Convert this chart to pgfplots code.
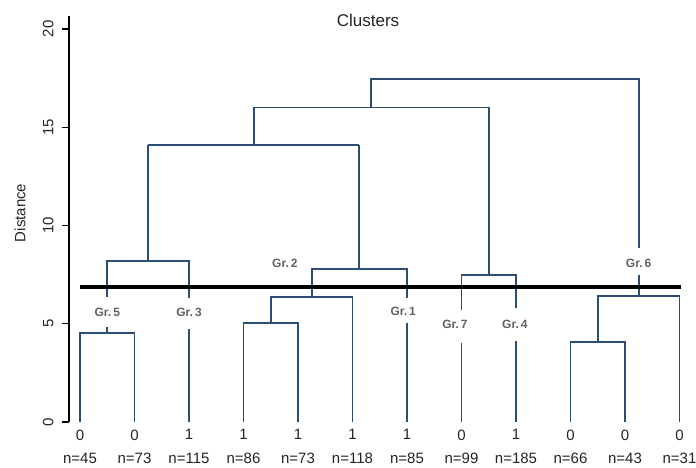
\documentclass[border=0pt]{standalone}
\usepackage{fontspec}
\setmainfont{Liberation Sans}
\usepackage{pgfplots}
\pgfplotsset{compat=1.18}
\definecolor{dendro}{RGB}{44,78,116}
\definecolor{txt}{RGB}{35,35,40}
\definecolor{grtxt}{RGB}{95,95,105}
\begin{document}
\begin{tikzpicture}
\useasboundingbox (-69pt,-45pt) rectangle (627pt,422pt);
\begin{axis}[
  at={(0,0)}, anchor=south west,
  scale only axis, width=627pt, height=406pt,
  xmin=0.798, xmax=12.303, ymin=0, ymax=20.66,
  axis y line=left, axis x line=bottom,
  x axis line style={draw=none},
  y axis line style={-, line width=1.4pt, black},
  ytick={0,5,10,15,20},
  tick align=outside,
  major tick length=7pt,
  ytick style={line width=1.4pt, black},
  xtick style={draw=none},
  xtick={1,2,3,4,5,6,7,8,9,10,11,12},
  xticklabels={{0\\n=45},{0\\n=73},{1\\n=115},{1\\n=86},{1\\n=73},{1\\n=118},{1\\n=85},{0\\n=99},{1\\n=185},{0\\n=66},{0\\n=43},{0\\n=31}},
  xticklabel style={align=center, font=\fontsize{15}{23.5}\selectfont, text=txt, yshift=3pt},
  yticklabel style={rotate=90, anchor=south, font=\fontsize{15}{18}\selectfont, text=txt},
  yticklabel shift=5pt,
  /pgf/number format/assume math mode=true,
  ylabel={Distance},
  ylabel style={at={(rel axis cs:-0.078,0.515)}, anchor=center, font=\fontsize{15}{18}\selectfont, text=txt},
  title={Clusters},
  title style={at={(rel axis cs:0.477,0.975)}, anchor=center, font=\fontsize{17}{20}\selectfont, text=txt},
  clip=false,
]
\pgfplotsset{dl/.style={dendro, line width=1.8pt, line join=miter}}
\addplot[dl] coordinates {(1,0)(1,4.51)(2,4.51)(2,0)};
\addplot[dl] coordinates {(1.5,4.51)(1.5,4.85)};
\addplot[dl] coordinates {(3,0)(3,4.73)};
\addplot[dl] coordinates {(1.5,6.38)(1.5,8.19)(3,8.19)(3,6.3)};
\addplot[dl] coordinates {(2.25,8.19)(2.25,14.1)};
\addplot[dl] coordinates {(4,0)(4,5.02)(5,5.02)(5,0)};
\addplot[dl] coordinates {(4.5,5.02)(4.5,6.35)(6,6.35)(6,0)};
\addplot[dl] coordinates {(7,0)(7,5.02)};
\addplot[dl] coordinates {(5.25,6.35)(5.25,7.77)(7,7.77)(7,6.3)};
\addplot[dl] coordinates {(6.125,7.77)(6.125,14.1)};
\addplot[dl] coordinates {(2.25,14.1)(6.125,14.1)};
\addplot[dl] coordinates {(4.1875,14.1)(4.1875,16.0)(8.5,16.0)(8.5,7.48)};
\addplot[dl] coordinates {(8,0)(8,4.0)};
\addplot[dl] coordinates {(9,0)(9,4.12)};
\addplot[dl] coordinates {(8,5.7)(8,7.48)(9,7.48)(9,5.82)};
\addplot[dl] coordinates {(6.34375,16.0)(6.34375,17.46)(11.25,17.46)(11.25,8.87)};
\addplot[dl] coordinates {(10,0)(10,4.09)(11,4.09)(11,0)};
\addplot[dl] coordinates {(10.5,4.09)(10.5,6.43)(12,6.43)(12,0)};
\addplot[dl] coordinates {(11.25,6.43)(11.25,7.48)};
\addplot[black, line width=3.8pt] coordinates {(1,6.89)(12.03,6.89)};
\begin{scope}[every node/.style={font=\fontsize{12}{13}\selectfont\bfseries, text=grtxt, anchor=center}]
\node at (axis cs:1.5,5.6) {Gr.\,5};
\node at (axis cs:3,5.6) {Gr.\,3};
\node at (axis cs:4.76,8.05) {Gr.\,2};
\node at (axis cs:6.93,5.61) {Gr.\,1};
\node at (axis cs:7.88,4.96) {Gr.\,7};
\node at (axis cs:8.98,4.96) {Gr.\,4};
\node at (axis cs:11.25,8.05) {Gr.\,6};
\end{scope}
\end{axis}
\end{tikzpicture}
\end{document}
